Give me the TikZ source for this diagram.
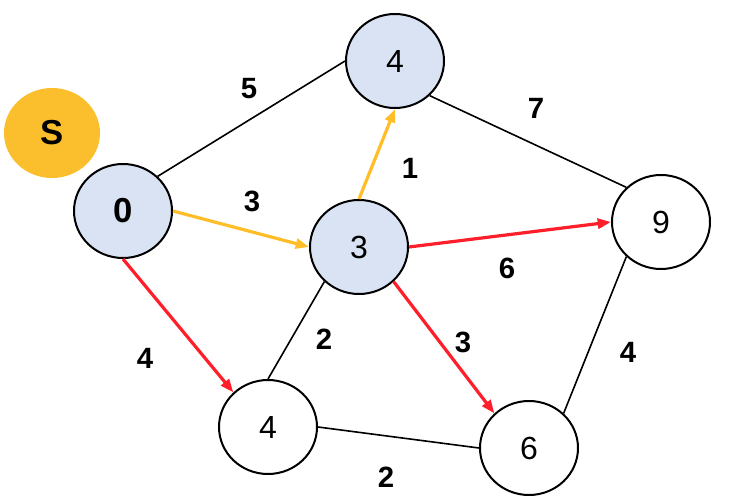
\documentclass[tikz,border=0pt]{standalone}
\usepackage{fontspec}
\setmainfont{Liberation Sans}
\usetikzlibrary{arrows.meta,shapes.geometric}
\definecolor{visitblue}{HTML}{DAE3F3}
\definecolor{srcorange}{HTML}{FBBF2D}
\definecolor{treeorange}{HTML}{FFBE28}
\definecolor{treered}{HTML}{FF1F2A}
\begin{document}
\begin{tikzpicture}[
  x=0.75pt, y=-0.75pt,
  vertex/.style={ellipse, draw, line width=1.5pt, minimum width=73.5pt, minimum height=70.5pt, inner sep=0pt, font=\fontsize{24}{28}\selectfont},
  weight/.style={inner sep=0pt, font=\bfseries\fontsize{22}{26}\selectfont},
  edge/.style={draw, line width=1.2pt},
  tree/.style={line width=2.4pt, -{Triangle[length=10pt,width=7.5pt]}}
]
\useasboundingbox (0,0) rectangle (740,502);

\node[ellipse, fill=srcorange, minimum width=72pt, minimum height=67.5pt, inner sep=0pt, font=\bfseries\fontsize{26}{30}\selectfont] (src) at (52,133) {S};
\node[vertex, fill=visitblue, font=\bfseries\fontsize{26}{30}\selectfont] (v0) at (123,211) {0};
\node[vertex, fill=visitblue] (vtop) at (395,61) {4};
\node[vertex, fill=visitblue] (v3) at (359,247) {3};
\node[vertex] (v9) at (661,222) {9};
\node[vertex] (vlow) at (268,427) {4};
\node[vertex] (v6) at (529,448) {6};

\draw[edge] (v0.45) -- (vtop.west);
\draw[edge] (vtop.-45) -- (v9.135);
\draw[edge] (v3.225) -- (vlow.north);
\draw[edge] (vlow.east) -- (v6.west);
\draw[edge] (v6.45) -- (v9.225);

\draw[tree, treeorange] (v0.east) -- (v3.west);
\draw[tree, treeorange] (v3.north) -- (vtop.south);
\draw[tree, treered] (v3.east) -- (v9.west);
\draw[tree, treered] (v3.-45) -- (v6.135);
\draw[tree, treered] (v0.south) -- (vlow.135);

\node[weight] (w5) at (249,89) {5};
\node[weight] (w7) at (536,108) {7};
\node[weight] (w3a) at (252,201) {3};
\node[weight] (w1) at (410,168) {1};
\node[weight] (w6) at (507,268) {6};
\node[weight] (w2a) at (324,339) {2};
\node[weight] (w3b) at (463,342) {3};
\node[weight] (w4a) at (145,358) {4};
\node[weight] (w4b) at (628,352) {4};
\node[weight] (w2b) at (386,477) {2};
\end{tikzpicture}
\end{document}
